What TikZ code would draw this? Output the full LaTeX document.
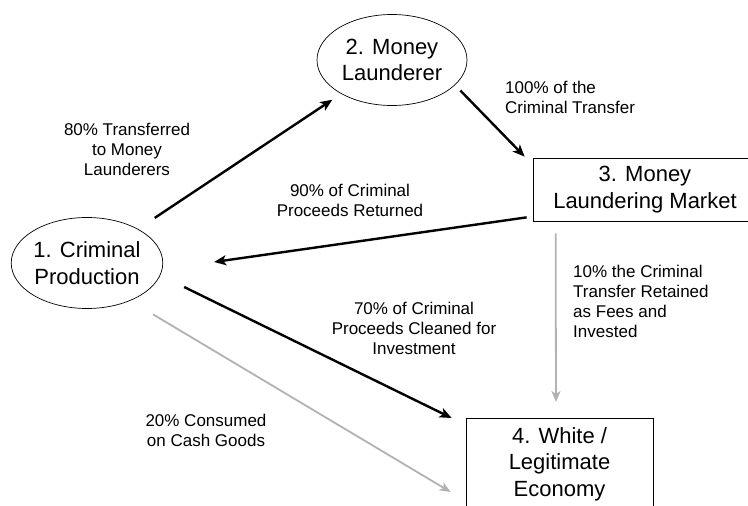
\documentclass[tikz,border=0pt]{standalone}
\usepackage{fontspec}
\setmainfont{Liberation Sans}
\usepackage{tikz}
\usetikzlibrary{shapes.geometric, arrows.meta, positioning, calc}
\definecolor{flowgrey}{RGB}{178, 178, 178}

\begin{document}
\begin{tikzpicture}[
        x=1pt, y=-1pt,
        stage/.style={ellipse, draw, line width=0.7pt, minimum width=150pt, minimum height=91pt, inner sep=0pt, align=center, font=\fontsize{22}{26.5}\selectfont},
        market/.style={rectangle, draw, line width=0.7pt, minimum width=224pt, minimum height=63pt, inner sep=0pt, align=center, font=\fontsize{22}{26.5}\selectfont},
        flowlabel/.style={inner sep=0pt, font=\fontsize{17}{20}\selectfont},
        arrow/.style={->, >={Stealth[length=12pt, width=10pt, inset=3pt]}, line width=2.4pt},
        greyarrow/.style={->, >={Stealth[length=11pt, width=9pt, inset=3pt]}, line width=1.8pt, draw=flowgrey}
    ]
        \useasboundingbox (0,0) rectangle (748,506);
        \clip (0,0) rectangle (748,506);

        \node[stage] (crime) at (87,263) {1. Criminal\\Production};
        \node[stage] (launderer) at (392,60) {2. Money\\Launderer};
        \node[market] (market) at (645,189.5) {3. Money\\Laundering Market};
        \node[market, anchor=north, minimum width=187pt, minimum height=0pt, inner ysep=9pt] (economy) at (559.5,418) {4. White /\\Legitimate\\Economy};

        % flows
        \draw[arrow, shorten <=20pt, shorten >=10.6pt] (crime) -- (launderer);
        \draw[arrow] ($(launderer.-24)+(7.5,3.4)$) -- ($(market.north west)+(-8,-1)$);
        \draw[arrow] ($(market.south west)+(-6,-4)$) -- ($(crime.east)+(51,-1)$);
        \draw[arrow] ($(crime.east)+(21,24)$) -- ($(economy.north west)+(-14,0)$);
        \draw[greyarrow] ($(crime.south)+(66,5.5)$) -- ($(economy.north west)+(-15,74)$);
        \draw[greyarrow] ($(market.south west)+(23,12)$) -- ($(economy.north)+(-3.5,-16)$);

        % labels
        \node[flowlabel, align=center] (toLaunderer) at (127,149.5) {80\% Transferred\\to Money\\Launderers};
        \node[flowlabel, align=left, anchor=west] (toMarket) at (505,97) {100\% of the\\Criminal Transfer};
        \node[flowlabel, align=center] (returned) at (350,200) {90\% of Criminal\\Proceeds Returned};
        \node[flowlabel, align=left, anchor=west] (retained) at (573,301) {10\% the Criminal\\Transfer Retained\\as Fees and\\Invested};
        \node[flowlabel, align=center] (cleaned) at (414,328) {70\% of Criminal\\Proceeds Cleaned for\\Investment};
        \node[flowlabel, align=center] (consumed) at (206,430) {20\% Consumed\\on Cash Goods};
\end{tikzpicture}
\end{document}
